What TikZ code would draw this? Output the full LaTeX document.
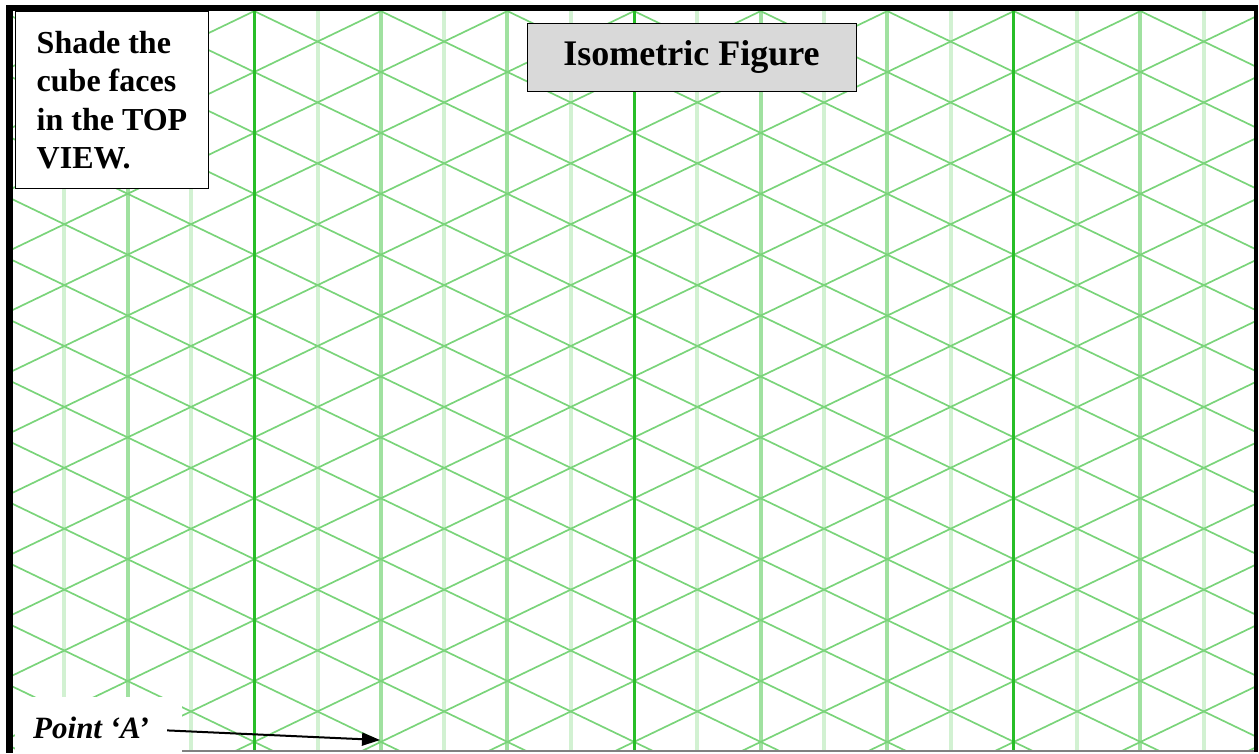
\documentclass[tikz,border=0pt]{standalone}
\usepackage{fontspec}
\setmainfont{Liberation Serif}
\usetikzlibrary{arrows.meta}
\definecolor{gridDark}{RGB}{40,190,40}
\definecolor{gridMid}{RGB}{160,225,160}
\definecolor{gridLight}{RGB}{210,241,210}
\definecolor{gridDiag}{RGB}{122,212,122}
\definecolor{titleGray}{RGB}{217,217,217}
\begin{document}
\begin{tikzpicture}[
  x=1pt, y=-1pt,
  diag/.style={gridDiag, line width=1.7pt},
  vdark/.style={gridDark, line width=3pt},
  vmid/.style={gridMid, line width=4pt},
  vlight/.style={gridLight, line width=4pt},
  taskbox/.style={draw, fill=white, line width=1pt, align=left,
                  minimum width=193pt, minimum height=177pt,
                  font=\fontsize{32}{38.5}\selectfont\bfseries},
  titlebox/.style={draw, fill=titleGray, line width=1pt,
                   minimum width=329pt, minimum height=68pt,
                   font=\fontsize{36}{43}\selectfont\bfseries},
  pointlabel/.style={inner sep=0pt, font=\fontsize{31}{37}\selectfont\bfseries\itshape},
  pointer/.style={-{Triangle[length=18pt,width=13pt]}, line width=2pt}
]
\useasboundingbox (0,0) rectangle (1259,753);
\begin{scope}
  \clip (13,11) rectangle (1254,751);
  \foreach \k in {1,3,...,19} \draw[vlight] ({1+63.3*\k},0) -- ++(0,753);
  \foreach \k in {2,6,8,12,14,18} \draw[vmid] ({1+63.3*\k},0) -- ++(0,753);
  \foreach \m in {-12,...,12} \draw[diag] (0,{71.5+60.9*\m}) -- ++(1259,605.6);
  \foreach \m in {0,...,24} \draw[diag] (0,{72.5+60.9*\m}) -- ++(1259,-605.6);
  \foreach \k in {4,10,16} \draw[vdark] ({1+63.3*\k},0) -- ++(0,753);
\end{scope}
\fill[white] (15,697) rectangle (182,753);
\draw[gray, line width=1.5pt] (182,751) -- (1256,751);
\draw[line width=4pt] (1256,5) -- (1256,752);
\draw[line width=6pt] (6,8) -- (1258,8);
\draw[line width=7pt] (9.5,5) -- (9.5,753);
\node[taskbox, anchor=north west] (task) at (15,11) {Shade the\\cube faces\\in the TOP\\VIEW.};
\node[titlebox] (title) at (691.5,57) {Isometric Figure};
\node[pointlabel, anchor=base west] (pointA) at (33,738) {Point ‘A’};
\coordinate (A) at (380,740);
\draw[pointer] ([xshift=18pt,yshift=-3pt]pointA.east) -- (A);
\end{tikzpicture}
\end{document}
